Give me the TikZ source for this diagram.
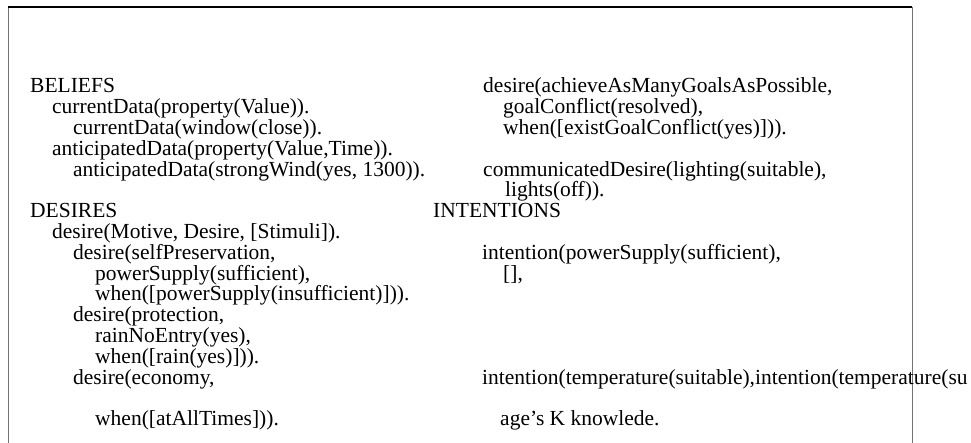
\documentclass[tikz,border=0pt]{standalone}
\usepackage{fontspec}
\setmainfont{Liberation Serif}
\usepackage{tikz}
\usetikzlibrary{positioning}
\definecolor{framegray}{rgb}{0.45,0.45,0.45}
\tikzset{
  entry/.style={%
    anchor=base west,
    inner sep=0,
    font=\fontsize{21.5}{20.8}\selectfont,
  }
}
\newcommand\Entry[4]{% name, x, row, text
  \node (#1) [entry] at ({#2},{93+#3*20.8}) {#4};
}

\begin{document}
\begin{tikzpicture}[x=1pt,y=-1pt]
    \useasboundingbox (0,0) rectangle (971,443);
    \coordinate (tl) at (8,7);
    \coordinate (tr) at (912,7);
    \coordinate (bl) at (8,443);
    \coordinate (br) at (912,443);
    \draw [framegray,line width=1pt] (bl) -- (tl);
    \draw [line width=1.2pt] (tl) -- (tr);
    \draw [framegray,line width=1pt] (tr) -- (br);
    \Entry{b0}{30}{0}{BELIEFS}
    \Entry{b1}{52}{1}{currentData(property(Value)).}
    \Entry{b2}{73}{2}{currentData(window(close)).}
    \Entry{b3}{52}{3}{anticipatedData(property(Value,Time)).}
    \Entry{b4}{73}{4}{anticipatedData(strongWind(yes, 1300)).}
    \Entry{d0}{30}{6}{DESIRES}
    \Entry{d1}{52}{7}{desire(Motive, Desire, [Stimuli]).}
    \Entry{d2}{73}{8}{desire(selfPreservation,}
    \Entry{d3}{95}{9}{powerSupply(sufficient),}
    \Entry{d4}{95}{10}{when([powerSupply(insufficient)])).}
    \Entry{d5}{73}{11}{desire(protection,}
    \Entry{d6}{95}{12}{rainNoEntry(yes),}
    \Entry{d7}{95}{13}{when([rain(yes)])).}
    \Entry{d8}{73}{14}{desire(economy,}
    \Entry{d9}{95}{16}{when([atAllTimes])).}
    \Entry{r0}{483}{0}{desire(achieveAsManyGoalsAsPossible,}
    \Entry{r1}{503}{1}{goalConflict(resolved),}
    \Entry{r2}{503}{2}{when([existGoalConflict(yes)])).}
    \Entry{r3}{483}{4}{communicatedDesire(lighting(suitable),}
    \Entry{r4}{505}{5}{lights(off)).}
    \Entry{i0}{433}{6}{INTENTIONS}
    \Entry{i1}{482}{8}{intention(powerSupply(sufficient),}
    \Entry{i2}{503}{9}{[],}
    \Entry{i3}{482}{14}{intention(temperature(suitable),intention(temperature(su}
    \Entry{i4}{500}{16}{age’s K knowlede.}
\end{tikzpicture}
\end{document}
